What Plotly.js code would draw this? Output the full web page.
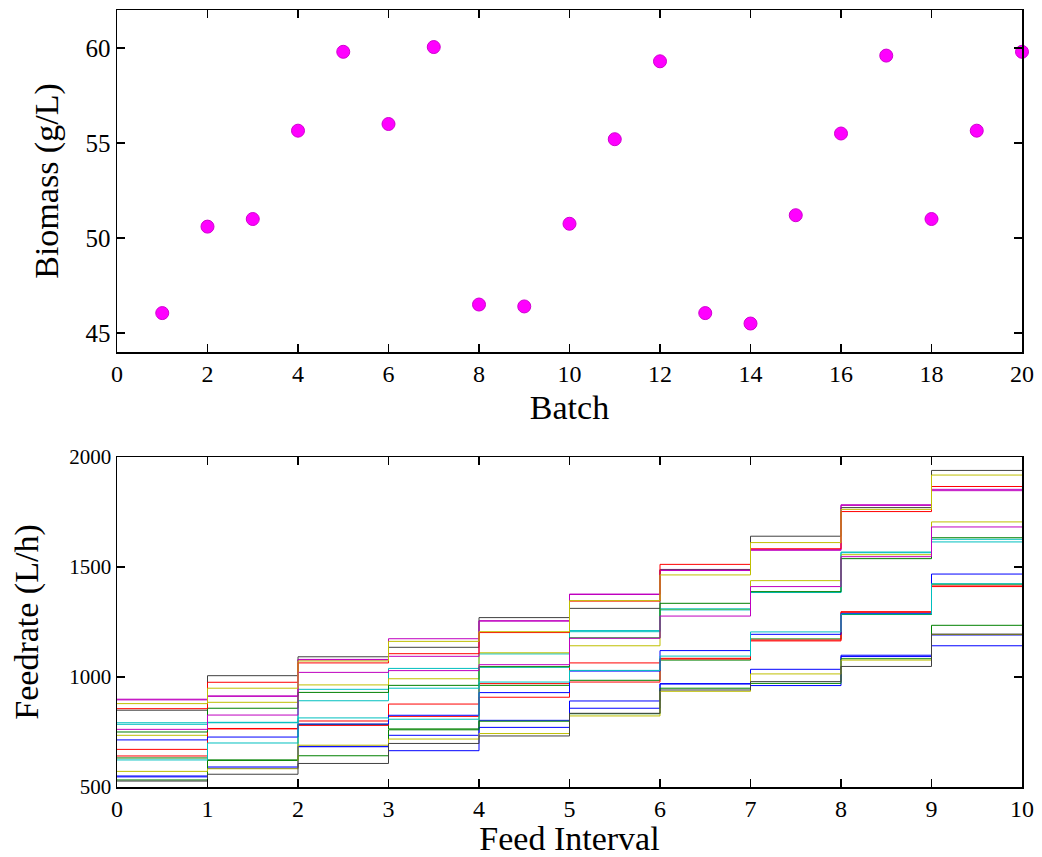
<!DOCTYPE html>
<html><head><meta charset="utf-8">
<script src="https://cdn.plot.ly/plotly-3.0.1.min.js"></script>
<style>html,body{margin:0;padding:0;background:#fff}#chart{width:1042px;height:857px}</style>
</head><body><div id="chart"></div><script>
// Top panel: final biomass per batch
const batches = [1,2,3,4,5,6,7,8,9,10,11,12,13,14,15,16,17,18,19,20];
const biomass = [46.05,50.6,51.0,55.65,59.8,56.0,60.05,46.5,46.4,50.75,55.2,59.3,46.05,45.5,51.2,55.5,59.6,51.0,55.65,59.8];

// Bottom panel: feed rate profile per batch (10 feed intervals)
const feedIntervals = [0,1,2,3,4,5,6,7,8,9,10];
const feedrates = [
  [550,591,683,735,803,858,970,1035,1099,1191],
  [632,623,785,764,962,985,1077,1173,1284,1422],
  [671,766,800,877,970,1064,1085,1168,1297,1414],
  [792,794,944,1039,1105,1211,1310,1385,1568,1626],
  [899,912,1080,1174,1256,1377,1489,1579,1783,1853],
  [735,885,964,992,1110,1142,1307,1438,1556,1705],
  [849,1006,1092,1135,1270,1312,1487,1640,1770,1939],
  [546,585,685,665,771,891,968,961,1093,1142],
  [532,621,642,760,799,833,949,971,1083,1235],
  [641,764,780,821,908,977,1082,1164,1294,1411],
  [785,792,892,949,1044,1206,1305,1384,1565,1614],
  [896,914,1078,1094,1254,1375,1484,1576,1780,1847],
  [571,583,690,718,743,823,935,1014,1077,1193],
  [527,558,607,698,732,835,941,979,1048,1195],
  [714,727,786,826,929,1027,1120,1194,1289,1468],
  [750,858,930,962,1047,1178,1335,1388,1538,1633],
  [856,976,1064,1106,1202,1345,1512,1583,1752,1866],
  [623,700,814,808,977,1030,1095,1205,1286,1424],
  [762,827,1021,1029,1056,1176,1277,1411,1547,1682],
  [879,949,1073,1162,1206,1347,1464,1611,1762,1918]
];
const colorOrder = ['#0000ff','#008000','#ff0000','#00bfbf','#bf00bf','#bfbf00','#404040'];

const FONT = 'Liberation Serif, Times New Roman, serif';
const TITLE_SIZE = 34;
const traces = [{
  type:'scatter', mode:'markers', x: batches, y: biomass, xaxis:'x', yaxis:'y',
  cliponaxis:false,
  marker:{size:13, color:'#ff00ff', line:{color:'#d000d0', width:1}},
  hoverinfo:'x+y'
}];
feedrates.forEach((row, i) => {
  traces.push({
    type:'scatter', mode:'lines', x: feedIntervals, y: row.concat([row[row.length-1]]),
    xaxis:'x2', yaxis:'y2', line:{shape:'hv', width:1, color: colorOrder[i % colorOrder.length]},
    name:'Batch ' + batches[i]
  });
});

const axisBase = {
  showline:true, linecolor:'#000', linewidth:1.5, mirror:'ticks',
  ticks:'inside', ticklen:8, tickwidth:1.5, tickcolor:'#000',
  showgrid:false, zeroline:false, automargin:false,
  tickfont:{family:FONT, size:24, color:'#000'}
};
const layout = {
  width:1042, height:857, showlegend:false,
  paper_bgcolor:'#fff', plot_bgcolor:'#fff',
  margin:{l:117, r:20, t:10, b:70},
  font:{family:FONT, color:'#000'},
  xaxis: Object.assign({}, axisBase, {anchor:'y', domain:[0,1], range:[0,20], tick0:0, dtick:2,
    title:{text:'Batch', font:{family:FONT, size:TITLE_SIZE}, standoff:9}}),
  yaxis: Object.assign({}, axisBase, {anchor:'x', domain:[0.5598,1], range:[44,62], tick0:45, dtick:5,
    tickfont:{family:FONT, size:25, color:'#000'},
    title:{text:'Biomass (g/L)', font:{family:FONT, size:TITLE_SIZE}, standoff:16}}),
  xaxis2: Object.assign({}, axisBase, {anchor:'y2', domain:[0,1], range:[0,10], tick0:0, dtick:1,
    title:{text:'Feed Interval', font:{family:FONT, size:TITLE_SIZE}, standoff:9}}),
  yaxis2: Object.assign({}, axisBase, {anchor:'x2', domain:[0,0.4247], range:[500,2000], tick0:500, dtick:500,
    tickfont:{family:FONT, size:21, color:'#000'},
    title:{text:'Feedrate (L/h)', font:{family:FONT, size:TITLE_SIZE}, standoff:20}})
};
Plotly.newPlot('chart', traces, layout, {displayModeBar:false, staticPlot:true});
</script></body></html>
